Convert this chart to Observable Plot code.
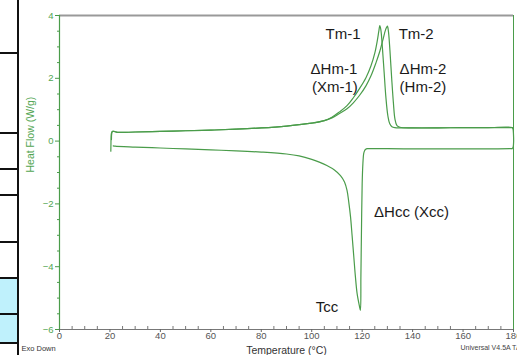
<!DOCTYPE html>
<html><head><meta charset="utf-8">
<script src="https://cdn.jsdelivr.net/npm/d3@7"></script>
<script src="https://cdn.jsdelivr.net/npm/@observablehq/plot@0.6"></script>
<style>
html,body{margin:0;padding:0;background:#fff;overflow:hidden;}
#wrap{position:relative;width:517px;height:355px;font-family:"Liberation Sans",Arial,sans-serif;overflow:hidden;}
#chart{position:absolute;left:0;top:0;}
#table{position:absolute;left:0;top:0;width:20px;height:355px;}
.vl{position:absolute;left:17px;top:0;width:2px;height:355px;background:#111;}
.hl{position:absolute;left:0;width:19px;height:2px;background:#111;}
.cell{position:absolute;left:0;width:17px;background:#bff1fc;}
</style></head>
<body><div id="wrap"><div id="table"></div><div id="chart"></div></div>
<script>
// ---- axis ticks ----
const xMajorTicks = [0, 20, 40, 60, 80, 100, 120, 140, 160, 180];
const xMinorTicks = [5, 10, 15, 25, 30, 35, 45, 50, 55, 65, 70, 75, 85, 90, 95, 105, 110, 115, 125, 130, 135, 145, 150, 155, 165, 170, 175];
const yMajorTicks = [-6, -4, -2, 0, 2, 4];
const yMinorTicks = [-5.5, -5, -4.5, -3.5, -3, -2.5, -1.5, -1, -0.5, 0.5, 1, 1.5, 2.5, 3, 3.5];

// ---- first heating (Tm-1), ends turning into the cooling run at 180 °C ----
const heat1T  = [20.6, 20.7, 21.0, 21.6, 23, 30, 40, 50, 60, 70, 80, 90, 100, 105, 108, 111, 114, 116.5, 119, 121.5, 123.5, 125, 126, 126.6, 127, 127.4, 128, 128.7, 129.4, 130.2, 130.9, 131.8, 133, 140, 150, 160, 170, 179.4, 179.8, 180, 180, 179.8, 179.4];
const heat1HF = [0.05, 0.24, 0.31, 0.31, 0.28, 0.29, 0.31, 0.33, 0.35, 0.38, 0.42, 0.48, 0.57, 0.65, 0.76, 0.93, 1.13, 1.38, 1.68, 2.02, 2.4, 2.8, 3.2, 3.5, 3.68, 3.55, 3.0, 2.2, 1.4, 0.8, 0.56, 0.46, 0.43, 0.42, 0.42, 0.43, 0.43, 0.43, 0.38, 0.2, -0.1, -0.2, -0.24];

// ---- cooling (Tcc) ----
const coolT  = [179.4, 170, 160, 150, 140, 130, 124, 122, 121.4, 121, 120.6, 120.3, 120.0, 119.7, 119.5, 119.3, 118.9, 118.0, 117.3, 116.7, 116.0, 115.4, 114.7, 114.0, 113, 111.4, 109, 106, 103, 100, 95, 90, 80, 70, 60, 50, 40, 30, 22, 21.3];
const coolHF = [-0.24, -0.25, -0.25, -0.25, -0.25, -0.24, -0.24, -0.24, -0.26, -0.3, -0.4, -0.7, -1.36, -3.0, -4.3, -5.39, -5.25, -4.86, -4.3, -3.7, -3.0, -2.42, -1.95, -1.57, -1.3, -1.1, -0.92, -0.78, -0.67, -0.58, -0.47, -0.41, -0.35, -0.31, -0.28, -0.25, -0.22, -0.19, -0.16, -0.15];

// ---- second heating (Tm-2) ----
const heat2T  = [20.35, 20.4, 20.45, 20.6, 21.0, 21.6, 23, 30, 40, 50, 60, 70, 80, 90, 100, 105, 108, 111, 114, 116.5, 119, 121.5, 123.5, 125.5, 127, 128.3, 129.3, 130, 130.4, 131, 131.7, 132.4, 133, 133.8, 135, 140, 150, 160, 170, 180];
const heat2HF = [-0.32, -0.1, 0.1, 0.25, 0.31, 0.31, 0.28, 0.29, 0.31, 0.33, 0.35, 0.38, 0.42, 0.48, 0.57, 0.65, 0.74, 0.88, 1.03, 1.22, 1.46, 1.76, 2.08, 2.5, 2.86, 3.25, 3.55, 3.66, 3.5, 2.9, 2.0, 1.2, 0.7, 0.49, 0.44, 0.42, 0.42, 0.43, 0.43, 0.43];

// ---- annotations ----
const annoLabels = ["Tm-1", "Tm-2", "ΔHm-1", "(Xm-1)", "ΔHm-2", "(Hm-2)", "ΔHcc (Xcc)", "Tcc"];
const annoT      = [112.4, 141.4, 108.8, 109.2, 144.1, 144.1, 139.6, 106.1];
const annoHF     = [3.41, 3.41, 2.28, 1.71, 2.28, 1.71, -2.26, -5.28];

const green = "#4a9c4a";
const labelGreen = "#52a552";

const toRows = (T, HF) => T.map((t, i) => ({t, hf: HF[i]}));

const chart = Plot.plot({
  width: 517,
  height: 355,
  marginLeft: 59,
  marginRight: 4,
  marginTop: 15,
  marginBottom: 26,
  style: {fontFamily: "'Liberation Sans', Arial, sans-serif", fontSize: "10px", background: "transparent"},
  x: {domain: [0, 180]},
  y: {domain: [-6, 4]},
  marks: [
    Plot.ruleY([4], {stroke: "#999", strokeWidth: 2}),
    Plot.ruleX([180], {stroke: green, strokeWidth: 1}),
    Plot.ruleX([0], {stroke: green, strokeWidth: 1.2}),
    Plot.ruleY([-6], {stroke: "#777", strokeWidth: 1.2}),
    Plot.axisY({ticks: yMajorTicks, tickSize: 4, tickPadding: 2, stroke: green, fill: labelGreen, fontSize: 9.5, label: null}),
    Plot.axisY(yMinorTicks, {tickSize: 2, tickFormat: () => "", stroke: green, label: null}),
    Plot.axisX({ticks: xMajorTicks, tickSize: 3, tickPadding: 0, stroke: "#666", fill: "#555", fontSize: 9.5, label: null}),
    Plot.axisX(xMinorTicks, {tickSize: 3, dy: -3, tickFormat: () => "", stroke: "#777", label: null}),
    Plot.text(["Heat Flow (W/g)"], {frameAnchor: "left", dx: -29, rotate: -90, fill: labelGreen, fontSize: 10.5}),
    Plot.text(["Temperature (°C)"], {frameAnchor: "bottom", dy: 24, fill: "#333", fontSize: 10.5}),
    Plot.text(["Exo Down"], {frameAnchor: "bottom-left", dx: -38, dy: 21, textAnchor: "start", fill: "#333", fontSize: 7.5}),
    Plot.text(["Universal V4.5A TA Instruments"], {frameAnchor: "bottom-right", dx: -53, dy: 20, textAnchor: "start", fill: "#444", fontSize: 7}),
    Plot.line(toRows(heat1T, heat1HF), {x: "t", y: "hf", stroke: green, strokeWidth: 1.2, curve: "catmull-rom"}),
    Plot.line(toRows(coolT, coolHF), {x: "t", y: "hf", stroke: green, strokeWidth: 1.2, curve: "catmull-rom"}),
    Plot.line(toRows(heat2T, heat2HF), {x: "t", y: "hf", stroke: green, strokeWidth: 1.2, curve: "catmull-rom"}),
    Plot.text(annoLabels, {x: annoT, y: annoHF, text: d => d, fontSize: 15, fill: "#1a1a1a"})
  ]
});
document.getElementById("chart").appendChild(chart);

// cropped neighbouring table on the left edge
const tableLines = [53, 133, 169, 195, 242, 278, 314, 343];
const blueCells = [[279, 314], [315, 343]];
const table = document.getElementById("table");
blueCells.forEach(([a, b]) => {
  const c = document.createElement("div");
  c.className = "cell"; c.style.top = a + "px"; c.style.height = (b - a) + "px";
  table.appendChild(c);
});
tableLines.forEach(y => {
  const l = document.createElement("div");
  l.className = "hl"; l.style.top = (y - 1) + "px";
  table.appendChild(l);
});
const v = document.createElement("div"); v.className = "vl"; table.appendChild(v);
</script>
</body></html>
